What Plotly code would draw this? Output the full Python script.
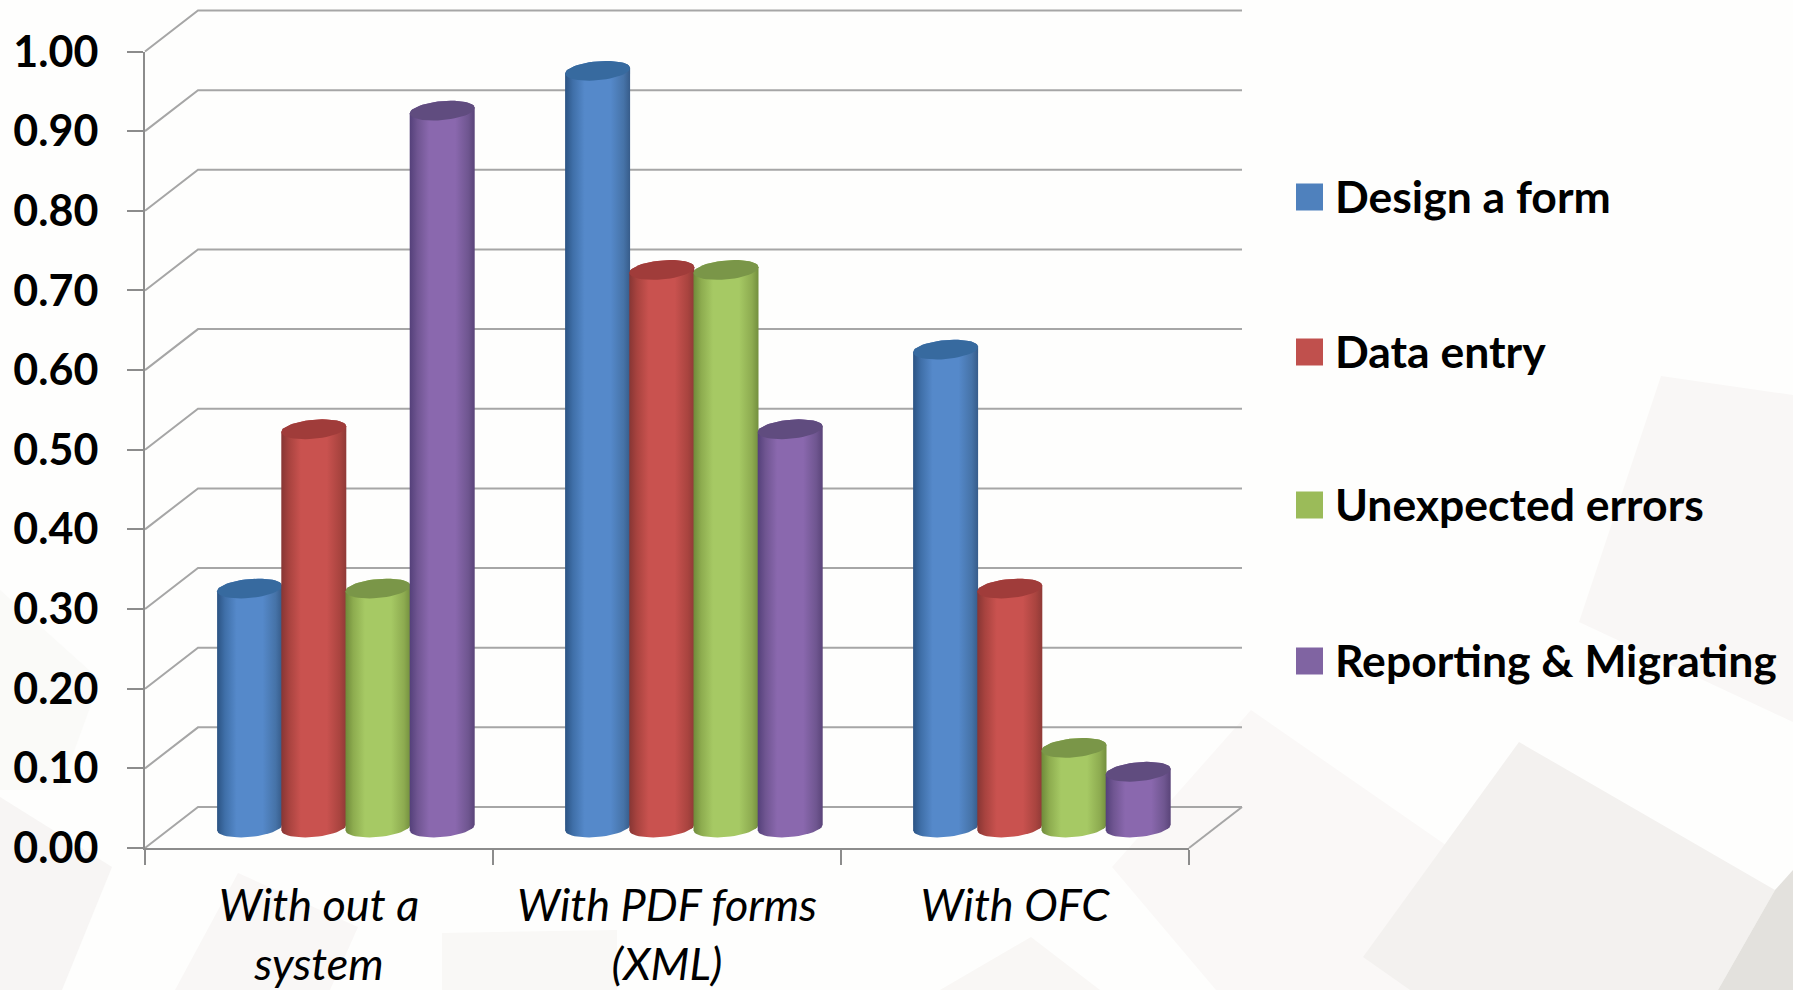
import math
import plotly.graph_objects as go

categories = ["With out a<br>system", "With PDF forms<br>(XML)", "With OFC"]
design_a_form = [0.30, 0.95, 0.60]
data_entry = [0.50, 0.70, 0.30]
unexpected_errors = [0.30, 0.70, 0.10]
reporting_migrating = [0.90, 0.50, 0.07]
series_names = ["Design a form", "Data entry", "Unexpected errors", "Reporting & Migrating"]
series_values = [design_a_form, data_entry, unexpected_errors, reporting_migrating]
swatch_colors = ["#4f81bd", "#c0504d", "#9bbb59", "#8064a2"]
body_scales = [
    [[0, "#2b5383"], [0.12, "#3f6fa8"], [0.3, "#5589ca"], [0.7, "#5589ca"], [0.9, "#4673a8"], [1, "#375c8a"]],
    [[0, "#873634"], [0.12, "#a8433f"], [0.3, "#c9524f"], [0.7, "#c9524f"], [0.9, "#a9443f"], [1, "#8f3a37"]],
    [[0, "#6f8a3a"], [0.12, "#8dac4f"], [0.3, "#a6c964"], [0.7, "#a6c964"], [0.9, "#8dab50"], [1, "#738f3e"]],
    [[0, "#54407a"], [0.12, "#6f5591"], [0.3, "#8a68ae"], [0.7, "#8a68ae"], [0.9, "#6f5690"], [1, "#5a4479"]],
]
cap_colors = ["#376a9f", "#a03c3a", "#7a9648", "#604c7f"]

# page geometry (pixels)
W, H = 1793, 990
LEFT, RIGHT, BOTTOM, TOP = 145, 1189, 848, 51.5
PX_PER_CAT = (RIGHT - LEFT) / 3
PX_PER_VAL = BOTTOM - TOP
DEPTH_X, DEPTH_Y = 53, 41
BAR_W = 64.2
GROUP_START = 72.5
RX, RY, TILT = 32.5, 9.5, 2.8
GRID = "#a6a6a6"
AXIS = "#8c8c8c"


def dx(px):
    return px / PX_PER_CAT


def dy(px):
    return px / PX_PER_VAL


def cylinder(cat, ser, val):
    cx = cat + dx(GROUP_START + BAR_W * (ser + 0.5))
    base = dy(DEPTH_Y / 2)
    top = base + val

    def pt(theta, level):
        c, s = math.cos(theta), math.sin(theta)
        return cx + dx(RX * c), level + dy(RY * s + TILT * c)

    steps = [i * math.pi / 24 for i in range(25)]
    upper = [pt(t, top) for t in steps]                      # right to left over the top
    lower = [pt(math.pi + t, base) for t in steps]           # left to right under the base
    body = upper + lower + [upper[0]]
    cap = upper + [pt(math.pi + t, top) for t in steps]
    return body, cap


fig = go.Figure()

# walls: one polyline per axis tick value
for v in [i / 10 for i in range(11)]:
    fig.add_trace(go.Scatter(
        x=[0, dx(DEPTH_X), 3 + dx(DEPTH_X)],
        y=[v, v + dy(DEPTH_Y), v + dy(DEPTH_Y)],
        mode="lines", line=dict(color=GRID, width=2),
        showlegend=False, hoverinfo="skip"))
fig.add_trace(go.Scatter(
    x=[3, 3 + dx(DEPTH_X)], y=[0, dy(DEPTH_Y)],
    mode="lines", line=dict(color=GRID, width=2),
    showlegend=False, hoverinfo="skip"))

# cylinders
for cat in range(len(categories)):
    for s, vals in enumerate(series_values):
        body, cap = cylinder(cat, s, vals[cat])
        fig.add_trace(go.Scatter(
            x=[p[0] for p in body], y=[p[1] for p in body],
            mode="lines", line=dict(width=0), fill="toself",
            fillgradient=dict(type="horizontal", colorscale=body_scales[s]),
            name=series_names[s], showlegend=False, hoverinfo="skip"))
        fig.add_trace(go.Scatter(
            x=[p[0] for p in cap], y=[p[1] for p in cap],
            mode="lines", line=dict(width=0), fill="toself", fillcolor=cap_colors[s],
            name=series_names[s], showlegend=False, hoverinfo="skip"))

# carrier for the visible axes, which sit on top of the full-page data axes
fig.add_trace(go.Scatter(x=[0.5, 1.5, 2.5], y=[0, 0, 0], xaxis="x2", yaxis="y2",
                         mode="markers", marker=dict(opacity=0),
                         showlegend=False, hoverinfo="skip"))


def px(x):
    return x / W


def py(y):
    return 1 - y / H


# faint background tiles
tiles = [
    ("#f9f7f6", [(1661, 376), (1793, 395), (1793, 722), (1579, 622)]),
    ("#faf8f7", [(1251, 710), (1453, 850), (1410, 990), (1216, 990), (1112, 867)]),
    ("#f3f1ef", [(1519, 742), (1775, 890), (1718, 990), (1410, 990), (1363, 957)]),
    ("#e3e1dd", [(1775, 890), (1793, 870), (1793, 990), (1718, 990)]),
    ("#f7f5f4", [(0, 797), (112, 867), (62, 990), (0, 990)]),
    ("#fafaf8", [(0, 590), (100, 680), (60, 790), (0, 790)]),
    ("#f9f7f6", [(238, 873), (358, 927), (330, 990), (175, 990)]),
    ("#f9f8f6", [(442, 933), (617, 930), (617, 990), (442, 990)]),
    ("#f9f7f5", [(1031, 937), (1100, 990), (940, 990)]),
]
shapes = []
for color, pts in tiles:
    d = "M" + " L".join(f"{px(x):.5f},{py(y):.5f}" for x, y in pts) + " Z"
    shapes.append(dict(type="path", xref="paper", yref="paper", path=d,
                       fillcolor=color, line=dict(width=0), layer="below"))

# legend
LEGEND_Y = [197, 352, 505, 661]
annotations = []
for name, color, y in zip(series_names, swatch_colors, LEGEND_Y):
    shapes.append(dict(type="rect", xref="paper", yref="paper",
                       x0=px(1296), x1=px(1323), y0=py(y + 13.5), y1=py(y - 13.5),
                       fillcolor=color, line=dict(width=0)))
    annotations.append(dict(xref="paper", yref="paper", x=px(1333), y=py(y - 1.5),
                            text=name, showarrow=False, xanchor="left", yanchor="middle",
                            font=dict(family="Lato", size=44.5, color="#000000", weight="bold")))

fig.update_layout(
    width=W, height=H, autosize=False,
    margin=dict(l=0, r=0, t=0, b=0),
    paper_bgcolor="#fefefd", plot_bgcolor="rgba(0,0,0,0)",
    showlegend=False, shapes=shapes, annotations=annotations,
    xaxis=dict(domain=[0, 1], range=[-LEFT / PX_PER_CAT, (W - LEFT) / PX_PER_CAT],
               visible=False, automargin=False),
    yaxis=dict(domain=[0, 1], range=[(BOTTOM - H) / PX_PER_VAL, BOTTOM / PX_PER_VAL],
               visible=False, automargin=False),
    xaxis2=dict(
        domain=[px(LEFT), px(RIGHT)], range=[0, 3], anchor="y2", automargin=False,
        tickmode="array", tickvals=[0.5, 1.5, 2.5], ticktext=categories,
        ticks="", showgrid=False, zeroline=False,
        showline=True, linecolor=AXIS, linewidth=2,
        tickfont=dict(family="Lato", size=45, style="italic", color="#000000"),
        ticklabelstandoff=17,
        minor=dict(tickmode="array", tickvals=[0, 1, 2, 3], ticks="outside",
                   ticklen=15, tickwidth=2, tickcolor=AXIS, showgrid=False),
    ),
    yaxis2=dict(
        domain=[py(BOTTOM), py(TOP)], range=[0, 1], anchor="x2", automargin=False,
        tickmode="linear", tick0=0, dtick=0.1, tickformat=".2f",
        ticks="outside", ticklen=16, tickwidth=2, tickcolor=AXIS,
        showgrid=False, zeroline=False,
        showline=True, linecolor=AXIS, linewidth=2,
        tickfont=dict(family="Lato", size=43, weight="bold", color="#000000"),
        ticklabelstandoff=20,
    ),
)

fig.write_html("out.html", config={"displayModeBar": False},
               post_script="document.body.style.margin='0';document.body.style.overflow='hidden';")
